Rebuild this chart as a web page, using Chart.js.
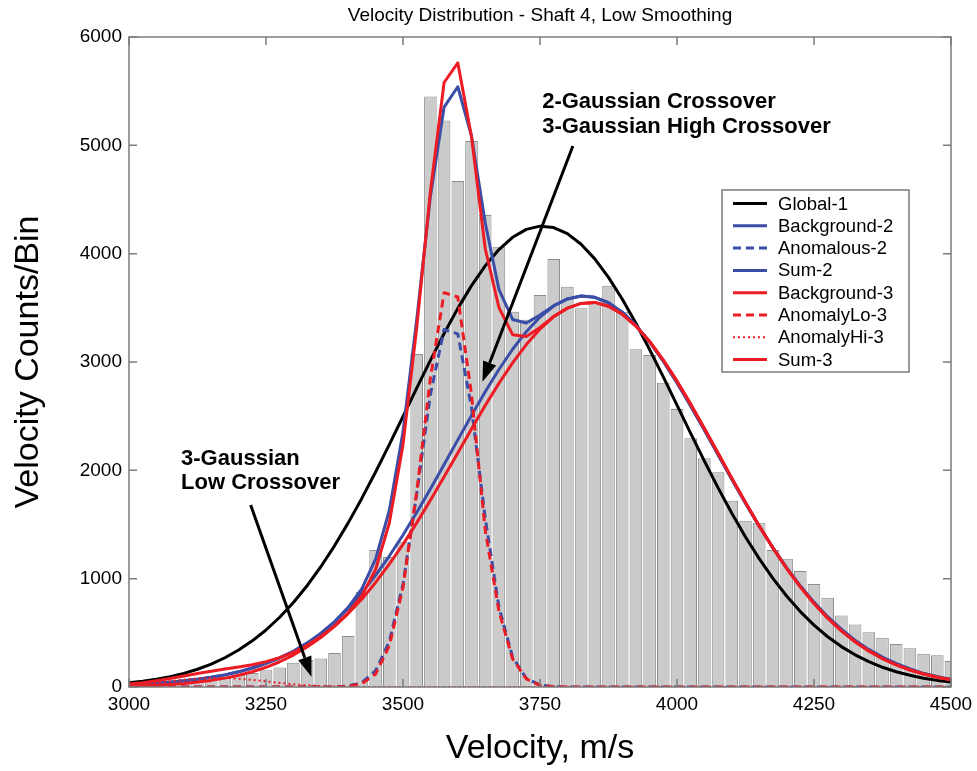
<!DOCTYPE html>
<html><head><meta charset="utf-8">
<script src="https://cdn.jsdelivr.net/npm/chart.js@4.4.1/dist/chart.umd.min.js"></script>
<style>html,body{margin:0;padding:0;background:#fff;}canvas{display:block;}</style>
</head><body>
<canvas id="c" width="977" height="771"></canvas>
<script>
// ---- data ----
const velocity = [3000,3025,3050,3075,3100,3125,3150,3175,3200,3225,
3250,3275,3300,3325,3350,3375,3400,3425,3450,3475,
3500,3525,3550,3575,3600,3625,3650,3675,3700,3725,
3750,3775,3800,3825,3850,3875,3900,3925,3950,3975,
4000,4025,4050,4075,4100,4125,4150,4175,4200,4225,
4250,4275,4300,4325,4350,4375,4400,4425,4450,4475,4500];

const binCounts = [30,40,50,55,65,75,85,95,110,130,
155,180,225,250,262,315,470,880,1265,1200,
1340,3075,5450,5230,4670,5040,4357,4065,3465,3390,
3618,3950,3695,3496,3557,3705,3465,3117,3065,2809,
2566,2296,2111,1982,1720,1535,1517,1265,1183,1071,
951,825,659,578,505,455,397,357,308,292,240];

const global1 = [40,54,72,96,126,164,212,270,341,426,
526,644,780,935,1110,1303,1515,1743,1985,2238,
2497,2758,3015,3263,3495,3705,3887,4038,4151,4224,
4254,4241,4185,4087,3952,3781,3581,3358,3115,2862,
2602,2341,2085,1838,1604,1385,1185,1002,840,696,
571,464,373,297,234,182,141,108,81,61,45];

const background2 = [20,27,35,45,57,72,90,112,140,175,
218,268,330,405,495,602,726,869,1031,1209,
1403,1610,1828,2053,2281,2506,2725,2931,3118,3280,
3415,3517,3582,3609,3597,3547,3460,3338,3186,3008,
2809,2595,2372,2144,1917,1696,1484,1285,1100,932,
781,647,531,430,345,274,215,167,124,94,70];

const anomalous2 = [0,0,0,0,0,0,0,0,0,0,
0,0,0,0,0,0,10,40,150,420,
950,1780,2700,3300,3260,2580,1560,740,275,80,
18,3,0,0,0,0,0,0,0,0,
0,0,0,0,0,0,0,0,0,0,
0,0,0,0,0,0,0,0,0,0,0];

const sum2 = [20,27,35,45,57,72,90,112,140,175,
218,268,330,405,495,602,736,909,1181,1629,
2353,3390,4528,5353,5541,5086,4285,3671,3393,3360,
3433,3520,3582,3609,3597,3547,3460,3338,3186,3008,
2809,2595,2372,2144,1917,1696,1484,1285,1100,932,
781,647,531,430,345,274,215,167,124,94,70];

const background3 = [9,12,17,24,33,46,61,82,108,141,
182,233,295,369,457,559,678,813,965,1134,
1317,1515,1724,1940,2161,2382,2598,2803,2992,3161,
3304,3418,3497,3541,3550,3515,3442,3332,3190,3018,
2823,2611,2387,2157,1928,1703,1487,1284,1096,924,
771,636,518,418,333,262,204,157,120,90,67];

const anomalyLo3 = [0,0,0,0,0,0,0,0,0,0,
0,0,0,0,0,0,5,30,120,380,
920,1800,2850,3640,3600,2700,1450,700,260,75,
15,3,0,0,0,0,0,0,0,0,
0,0,0,0,0,0,0,0,0,0,
0,0,0,0,0,0,0,0,0,0,0];

const anomalyHi3 = [18,28,40,54,68,79,84,84,77,65,
52,38,25,16,9,5,2,1,0,0,
0,0,0,0,0,0,0,0,0,0,
0,0,0,0,0,0,0,0,0,0,
0,0,0,0,0,0,0,0,0,0,
0,0,0,0,0,0,0,0,0,0,0];

const sum3 = [27,40,57,78,101,125,145,166,185,206,
234,271,320,385,466,564,685,844,1085,1514,
2237,3315,4574,5580,5761,5082,4048,3503,3252,3236,
3319,3421,3497,3541,3550,3515,3442,3332,3190,3018,
2823,2611,2387,2157,1928,1703,1487,1284,1096,924,
771,636,518,418,333,262,204,157,120,90,67];

const yTicks = [0,1000,2000,3000,4000,5000,6000];
const xTickLabels = [3000,3250,3500,3750,4000,4250,4500];

// ---- annotations (in data units: velocity, counts) ----
const noteTexts = [
  {v: 3754, lines: ['2-Gaussian Crossover', '3-Gaussian High Crossover'], c: [5342, 5117]},
  {v: 3095, lines: ['3-Gaussian', 'Low Crossover'], c: [2049, 1825]}
];
const arrowDefs = [
  {from: [3810, 4994], to: [3645, 2818]},
  {from: [3222, 1680], to: [3333, 95]}
];

[binCounts, global1, background2, anomalous2, sum2, background3, anomalyLo3, anomalyHi3, sum3].forEach((a, i) => {
  if (a.length !== velocity.length) throw new Error('array ' + i + ' length ' + a.length);
});

const FONT = "'Liberation Sans', Arial, Helvetica, sans-serif";
const BLUE = '#3a4ea7';
const RED = '#ec1c24';
const FRAME = '#7b7b7b';

function vIndex(v) { return (v - velocity[0]) / (velocity[1] - velocity[0]); }

const framePlugin = {
  id: 'framePlugin',
  afterDraw(chart) {
    const {ctx, chartArea: a, scales: {x, y}} = chart;
    ctx.save();
    // frame
    ctx.strokeStyle = FRAME;
    ctx.lineWidth = 1.5;
    ctx.strokeRect(a.left, a.top, a.right - a.left, a.bottom - a.top);
    // inward ticks
    const L = 8;
    ctx.beginPath();
    x.ticks.forEach((t, i) => {
      if (t.label === null || t.label === undefined || t.label === '') return;
      const px = x.getPixelForTick(i);
      ctx.moveTo(px, a.bottom); ctx.lineTo(px, a.bottom - L);
      ctx.moveTo(px, a.top); ctx.lineTo(px, a.top + L);
    });
    y.ticks.forEach((t) => {
      const py = y.getPixelForValue(t.value);
      ctx.moveTo(a.left, py); ctx.lineTo(a.left + L, py);
      ctx.moveTo(a.right, py); ctx.lineTo(a.right - L, py);
    });
    ctx.stroke();

    // annotations
    ctx.fillStyle = '#000';
    ctx.font = 'bold 22px ' + FONT;
    ctx.textAlign = 'left';
    ctx.textBaseline = 'alphabetic';
    noteTexts.forEach(n => {
      const px = x.getPixelForValue(vIndex(n.v));
      n.lines.forEach((s, k) => ctx.fillText(s, px, y.getPixelForValue(n.c[k])));
    });
    ctx.strokeStyle = '#000';
    ctx.lineWidth = 3;
    arrowDefs.forEach(ar => {
      const x1 = x.getPixelForValue(vIndex(ar.from[0])), y1 = y.getPixelForValue(ar.from[1]);
      const x2 = x.getPixelForValue(vIndex(ar.to[0])), y2 = y.getPixelForValue(ar.to[1]);
      const ang = Math.atan2(y2 - y1, x2 - x1);
      const hl = 20, hw = 7;
      const bx = x2 - hl * Math.cos(ang), by = y2 - hl * Math.sin(ang);
      ctx.beginPath(); ctx.moveTo(x1, y1); ctx.lineTo(bx, by); ctx.stroke();
      ctx.beginPath();
      ctx.moveTo(x2, y2);
      ctx.lineTo(bx + hw * Math.sin(ang), by - hw * Math.cos(ang));
      ctx.lineTo(bx - hw * Math.sin(ang), by + hw * Math.cos(ang));
      ctx.closePath(); ctx.fill();
    });

    // legend
    const lx = 722, ly = 190, lw = 187, lh = 182;
    ctx.fillStyle = '#fff';
    ctx.fillRect(lx, ly, lw, lh);
    ctx.strokeStyle = FRAME; ctx.lineWidth = 1.5;
    ctx.strokeRect(lx, ly, lw, lh);
    ctx.font = '18.5px ' + FONT;
    ctx.textBaseline = 'middle';
    chart.data.datasets.forEach((ds, i) => {
      if (ds.type !== 'line') return;
      const row = i - 1;
      const ry = 203.5 + row * 22.3;
      ctx.save();
      ctx.strokeStyle = ds.borderColor;
      ctx.lineWidth = ds.borderWidth;
      ctx.setLineDash(ds.borderDash || []);
      ctx.beginPath(); ctx.moveTo(733, ry); ctx.lineTo(767, ry); ctx.stroke();
      ctx.restore();
      ctx.fillStyle = '#000';
      ctx.fillText(ds.label, 778, ry + 1);
    });
    ctx.restore();
  }
};

function lineDs(label, data, color, order, dash, width) {
  return {type: 'line', label, data, borderColor: color, backgroundColor: color,
    borderWidth: width || 3, borderDash: dash || [], pointRadius: 0, tension: 0,
    fill: false, order, borderJoinStyle: 'round'};
}

new Chart(document.getElementById('c'), {
  type: 'bar',
  data: {
    labels: velocity,
    datasets: [
      {type: 'bar', label: 'Counts', data: binCounts, backgroundColor: '#cbcbcb',
        borderColor: '#8d8d8d', borderWidth: 1, barPercentage: 0.92, categoryPercentage: 1.0, order: 20},
      lineDs('Global-1', global1, '#000000', 9, [], 3),
      lineDs('Background-2', background2, BLUE, 8, [], 3),
      lineDs('Anomalous-2', anomalous2, BLUE, 7, [8, 5], 3),
      lineDs('Sum-2', sum2, BLUE, 6, [], 3),
      lineDs('Background-3', background3, RED, 5, [], 3),
      lineDs('AnomalyLo-3', anomalyLo3, RED, 4, [8, 5], 3),
      lineDs('AnomalyHi-3', anomalyHi3, RED, 3, [2, 3], 2),
      lineDs('Sum-3', sum3, RED, 2, [], 3)
    ]
  },
  options: {
    responsive: false,
    animation: false,
    devicePixelRatio: 1,
    layout: {padding: {left: 0, right: 26, top: 0, bottom: 0}},
    plugins: {
      legend: {display: false},
      tooltip: {enabled: false},
      title: {display: true, text: 'Velocity Distribution - Shaft 4, Low Smoothing', fullSize: false,
        color: '#000', font: {family: FONT, size: 19, weight: 'normal', lineHeight: 1.2},
        padding: {top: 4, bottom: 10.2}}
    },
    scales: {
      x: {
        type: 'category',
        offset: false,
        grid: {display: false, drawTicks: false, offset: false},
        border: {display: false},
        ticks: {
          autoSkip: false, maxRotation: 0, minRotation: 0, padding: 6, color: '#000',
          font: {family: FONT, size: 19},
          callback: function(val, idx) { const v = velocity[idx]; return xTickLabels.includes(v) ? String(v) : null; }
        },
        title: {display: true, text: 'Velocity, m/s', color: '#000',
          font: {family: FONT, size: 34, lineHeight: 1.2}, padding: {top: 0, bottom: 2}},
        afterFit(scale) { scale.height = 84; scale.paddingLeft = 0; scale.paddingRight = 0; }
      },
      y: {
        type: 'linear', min: 0, max: 6000,
        grid: {display: false, drawTicks: false},
        border: {display: false},
        afterBuildTicks(scale) { scale.ticks = yTicks.map(v => ({value: v})); },
        ticks: {padding: 7, color: '#000', font: {family: FONT, size: 19},
          callback: (v) => String(v)},
        title: {display: true, text: 'Velocity Counts/Bin', color: '#000',
          font: {family: FONT, size: 34, lineHeight: 1.2}, padding: {top: 8, bottom: 0}},
        afterFit(scale) { scale.width = 129; scale.paddingTop = 0; scale.paddingBottom = 0; }
      }
    }
  },
  plugins: [framePlugin]
});
</script>
</body></html>
